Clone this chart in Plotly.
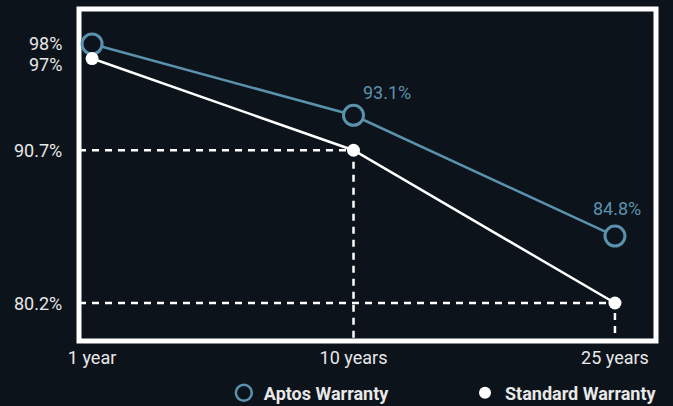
import plotly.graph_objects as go

categories = ["1 year", "10 years", "25 years"]
aptos_values = [98.0, 93.1, 84.8]
standard_values = [97.0, 90.7, 80.2]
aptos_labels = ["", "93.1%", "84.8%"]
y_tick_vals = [98.0, 97.0, 90.7, 80.2]
y_tick_text = ["98%", "97%", "90.7%", "80.2%"]
dashed_idx = [1, 2]

BG = "#0c131b"
BLUE = "#5a92ad"
WHITE = "#ffffff"
TXT = "#e8e8e8"
FONT = "Roboto"
FS = 18

x_pos = list(range(len(categories)))
XR = [-0.05, 2.157]
YR = [77.59, 100.405]

fig = go.Figure()

# dashed guide lines from the axes to the standard-warranty points
dx, dy = [], []
for i in dashed_idx:
    dx += [XR[0], x_pos[i], x_pos[i], None]
    dy += [standard_values[i], standard_values[i], YR[0], None]
fig.add_trace(go.Scatter(x=dx, y=dy, mode="lines", showlegend=False, hoverinfo="skip",
                         line=dict(color=WHITE, width=2.5, dash="7px,6px")))

fig.add_trace(go.Scatter(x=x_pos, y=aptos_values, mode="lines+markers", showlegend=False,
                         line=dict(color=BLUE, width=2.5),
                         marker=dict(size=20, color=BG, line=dict(color=BLUE, width=3))))
fig.add_trace(go.Scatter(x=x_pos, y=standard_values, mode="lines+markers", showlegend=False,
                         line=dict(color=WHITE, width=2.5),
                         marker=dict(size=13, color=WHITE)))

# legend-only traces (markers only), each in its own legend box
fig.add_trace(go.Scatter(x=[None], y=[None], mode="markers", name="Aptos Warranty",
                         legend="legend",
                         marker=dict(size=16, color=BG, line=dict(color=BLUE, width=2.5))))
fig.add_trace(go.Scatter(x=[None], y=[None], mode="markers", name="Standard Warranty",
                         legend="legend2",
                         marker=dict(size=12, color=WHITE)))

# point labels for Aptos series
label_shift = {1: (33, 23), 2: (2, 28)}
for i, lab in enumerate(aptos_labels):
    if lab:
        xs, ys = label_shift[i]
        fig.add_annotation(x=x_pos[i], y=aptos_values[i], text=lab, showarrow=False,
                           xshift=xs, yshift=ys,
                           font=dict(color=BLUE, size=FS, family=FONT))

# y tick labels (as annotations so the crowded 98%/97% pair can be nudged apart)
y_nudge = {0: 1, 1: -6}
for k, (v, t) in enumerate(zip(y_tick_vals, y_tick_text)):
    fig.add_annotation(x=0, xref="paper", y=v, yref="y", text=t, showarrow=False,
                       xanchor="right", yanchor="middle", xshift=-15, yshift=y_nudge.get(k, 0),
                       font=dict(color=TXT, size=FS, family=FONT))

fig.add_shape(type="rect", xref="paper", yref="paper", x0=0, x1=1, y0=0, y1=1,
              line=dict(color=WHITE, width=5), layer="below")

legend_common = dict(orientation="h", yanchor="middle", y=-0.1566, xanchor="left",
                     bgcolor="rgba(0,0,0,0)",
                     font=dict(size=FS, color=TXT, family=FONT, weight="bold"))

fig.update_layout(
    width=673, height=406,
    margin=dict(l=79, r=17, t=9, b=65, autoexpand=False),
    paper_bgcolor=BG, plot_bgcolor=BG,
    font=dict(family=FONT, color=TXT, size=FS),
    xaxis=dict(range=XR, tickvals=x_pos, ticktext=categories, showgrid=False, zeroline=False,
               showline=False, ticks="", ticklabelstandoff=4, automargin=False,
               tickfont=dict(size=FS, color=TXT)),
    yaxis=dict(range=YR, showgrid=False, zeroline=False, showline=False, ticks="",
               showticklabels=False, automargin=False),
    legend=dict(x=0.251, **legend_common),
    legend2=dict(x=0.669, **legend_common),
    showlegend=True,
)

fig.write_html(
    "out.html",
    config={"displayModeBar": False},
    post_script="document.body.style.margin='0px';document.body.style.background='%s';" % BG,
)
